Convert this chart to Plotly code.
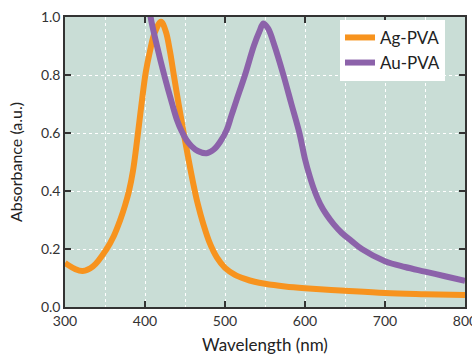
import plotly.graph_objects as go

# Ag-PVA spectrum
ag_wl = [300, 312, 322, 335, 352, 361, 369, 375, 380, 385, 389, 393, 397, 401, 406, 412, 420,
         426, 431, 436, 442, 448, 454, 460, 466, 473, 481, 490, 500, 512, 525, 537, 550, 575,
         600, 650, 700, 750, 800]
ag_abs = [0.152, 0.132, 0.124, 0.14, 0.20, 0.245, 0.30, 0.35, 0.40, 0.47, 0.55, 0.64, 0.73, 0.81,
          0.88, 0.945, 0.984, 0.95, 0.885, 0.80, 0.70, 0.605, 0.515, 0.43, 0.355, 0.285, 0.22,
          0.17, 0.135, 0.112, 0.097, 0.087, 0.080, 0.071, 0.065, 0.056, 0.048, 0.044, 0.041]

# Au-PVA spectrum
au_wl = [400, 407, 415, 424, 434, 440, 446, 452, 458, 466, 477, 486, 494, 502, 508, 514, 525,
         536, 543, 548, 554, 562, 573, 583, 593, 600, 606, 612, 619, 627, 636, 646, 658, 671,
         700, 725, 750, 775, 800]
au_abs = [1.15, 1.0, 0.9, 0.8, 0.7, 0.645, 0.605, 0.575, 0.555, 0.538, 0.53, 0.543, 0.57, 0.61,
          0.66, 0.71, 0.8, 0.9, 0.95, 0.978, 0.96, 0.9, 0.8, 0.7, 0.6, 0.51, 0.45, 0.4, 0.355,
          0.318, 0.285, 0.255, 0.228, 0.2, 0.158, 0.138, 0.122, 0.106, 0.09]

series_names = ["Ag-PVA", "Au-PVA"]
x_ticks = [300, 400, 500, 600, 700, 800]
y_ticks = [0.0, 0.2, 0.4, 0.6, 0.8, 1.0]

ORANGE = "#F7931E"
PURPLE = "#8C62AA"
FONT = "Lato"

fig = go.Figure()
fig.add_trace(go.Scatter(x=ag_wl, y=ag_abs, mode="lines", name=series_names[0],
                         line=dict(color=ORANGE, width=6, shape="spline", smoothing=1.0)))
fig.add_trace(go.Scatter(x=au_wl, y=au_abs, mode="lines", name=series_names[1],
                         line=dict(color=PURPLE, width=6, shape="spline", smoothing=1.0)))

axis_common = dict(
    showline=True, linecolor="#333333", linewidth=1.5, mirror="ticks",
    ticks="inside", ticklen=6, tickwidth=1.5, tickcolor="#333333",
    showgrid=True, gridcolor="white", gridwidth=1, griddash="dot",
    zeroline=False, automargin=False, ticklabeloverflow="allow",
    tickfont=dict(family=FONT, size=14, color="#333333"),
)

fig.update_xaxes(range=[300, 800], tickvals=x_ticks, ticktext=[str(v) for v in x_ticks],
                 minor=dict(dtick=50, showgrid=True, gridcolor="white", griddash="dot", ticks=""),
                 title=dict(text="Wavelength (nm)", font=dict(family=FONT, size=17, color="#222222"),
                            standoff=12),
                 **axis_common)
fig.update_yaxes(range=[0, 1.0], tickvals=y_ticks, ticktext=[f"{v:.1f}" for v in y_ticks],
                 title=dict(text="Absorbance (a.u.)", font=dict(family=FONT, size=16, color="#222222"),
                            standoff=14),
                 **axis_common)

fig.update_layout(
    width=472, height=355,
    margin=dict(l=65, r=7, t=17, b=48),
    plot_bgcolor="#C9DDD6",
    paper_bgcolor="white",
    legend=dict(x=0.95, y=0.99, xanchor="right", yanchor="top",
                bgcolor="white", borderwidth=0,
                font=dict(family=FONT, size=17, color="#222222"),
                itemwidth=30, tracegroupgap=0),
    showlegend=True,
)

fig.write_html("out.html", config={"displayModeBar": False},
               post_script="document.body.style.margin='0';document.body.style.overflow='hidden';")
